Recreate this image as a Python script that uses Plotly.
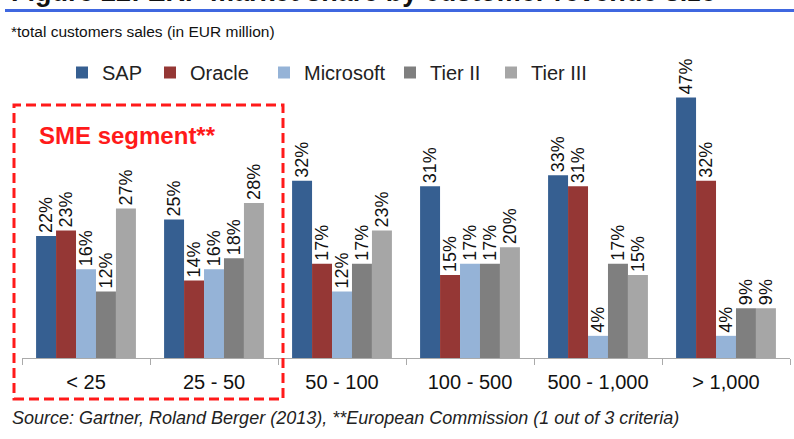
import plotly.graph_objects as go

categories = ["< 25", "25 - 50", "50 - 100", "100 - 500", "500 - 1,000", "> 1,000"]
series_names = ["SAP", "Oracle", "Microsoft", "Tier II", "Tier III"]
sap = [22, 25, 32, 31, 33, 47]
oracle = [23, 14, 17, 15, 31, 32]
microsoft = [16, 16, 12, 17, 4, 4]
tier2 = [12, 18, 17, 17, 17, 9]
tier3 = [27, 28, 23, 20, 15, 9]
colors = ["#365f91", "#953735", "#95b3d7", "#7f7f7f", "#a6a6a6"]

title_text = "Figure 22: ERP market share by customer revenue size"
subtitle_text = "*total customers sales (in EUR million)"
source_text = "Source: Gartner, Roland Berger (2013), **European Commission (1 out of 3 criteria)"
sme_text = "SME segment**"

W, H = 794, 439
L, R = 22, 4
T, B = 81, 81
PW = W - L - R
PH = H - T - B
FONT = "Liberation Sans, Arial, sans-serif"
legend_x = [62, 150, 264, 390, 491]


def px(x):
    return (x - L) / PW


def py(y):
    return (H - B - y) / PH


fig = go.Figure()
legend_ids = ["legend", "legend2", "legend3", "legend4", "legend5"]
for name, vals, c, lid in zip(series_names, [sap, oracle, microsoft, tier2, tier3], colors, legend_ids):
    fig.add_trace(go.Bar(
        x=categories, y=vals, name=name, marker=dict(color=c, line=dict(width=0)),
        text=[f"{v}%" for v in vals], textposition="outside", textangle=-90,
        textfont=dict(family=FONT, size=18, color="#111111"),
        constraintext="none", cliponaxis=False, legend=lid,
    ))

layout_legends = {}
for lid, lx in zip(legend_ids, legend_x):
    layout_legends[lid] = dict(orientation="h", xref="container", yref="container",
                               x=lx / W, y=1 - 53 / H, xanchor="left", yanchor="top",
                               font=dict(size=20, color="#222222"),
                               bgcolor="rgba(0,0,0,0)")

fig.update_layout(
    width=W, height=H,
    margin=dict(l=L, r=R, t=T, b=B, autoexpand=False),
    paper_bgcolor="white", plot_bgcolor="white",
    barmode="group", bargap=0.22, bargroupgap=0,
    font=dict(family=FONT, color="#111111"),
    showlegend=True,
    xaxis=dict(type="category", showgrid=False, showline=True, linecolor="#aaaaaa",
               linewidth=1, ticks="outside", tickson="boundaries", ticklen=6,
               tickcolor="#aaaaaa", tickfont=dict(size=20, color="#111111"),
               ticklabelstandoff=6),
    yaxis=dict(range=[0, 50], visible=False, showgrid=False),
    **layout_legends,
)

# cut-off title (the reference shows only its lower edge)
fig.add_annotation(text=f"<b>{title_text}</b>", xref="paper", yref="paper",
                   x=px(9), y=py(9), xanchor="left", yanchor="bottom",
                   showarrow=False, font=dict(size=27, color="#111111"))
# blue rule
fig.add_shape(type="line", xref="paper", yref="paper", x0=px(5), x1=px(800),
              y0=py(10.5), y1=py(10.5), line=dict(color="#3f67e0", width=3))
# subtitle
fig.add_annotation(text=subtitle_text, xref="paper", yref="paper",
                   x=px(9), y=py(31), xanchor="left", yanchor="middle",
                   showarrow=False, font=dict(size=15.5, color="#111111"))
# source
fig.add_annotation(text=f"<i>{source_text}</i>", xref="paper", yref="paper",
                   x=px(10), y=py(418), xanchor="left", yanchor="middle",
                   showarrow=False, font=dict(size=18, color="#222222"))
# SME box
fig.add_shape(type="rect", xref="paper", yref="paper", x0=px(14), x1=px(283),
              y0=py(399), y1=py(105), line=dict(color="#ff1a1a", width=3, dash="10px,5px"))
fig.add_annotation(text=f"<b>{sme_text}</b>", xref="paper", yref="paper",
                   x=px(37), y=py(135), xanchor="left", yanchor="middle",
                   showarrow=False, font=dict(size=24, color="#ff1a1a"))

fig.write_html("out.html")
